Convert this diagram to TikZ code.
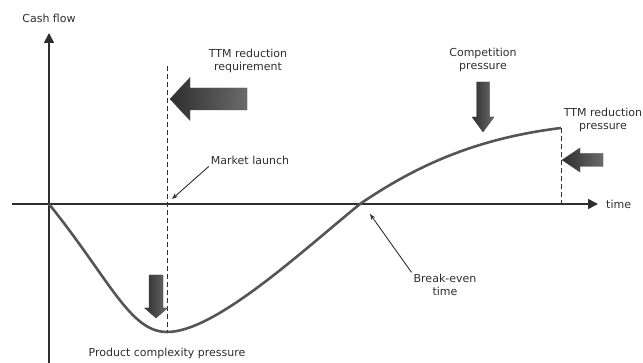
\documentclass[tikz,border=0pt]{standalone}
\usepackage{fontspec}
\setmainfont{DejaVu Sans}
\usepackage{tikz}
\usetikzlibrary{calc, arrows.meta, positioning}

\definecolor{inkgray}{HTML}{2E2E2E}
\definecolor{curvegray}{HTML}{555555}

\tikzset{
  pics/blockarrow/.style n args={4}{code={
    \shade[left color=black!82, right color=black!58, draw=black!72, line width=0.4pt]
      (0,0) -- (#2,#4) -- (#2,#3) -- (#1,#3) -- (#1,-#3) -- (#2,-#3) -- (#2,-#4) -- cycle;
  }}
}

\begin{document}
\begin{tikzpicture}[
  x=1pt, y=1pt,
  lbl/.style={font=\fontsize{11}{12.5}\selectfont, text=inkgray, align=center, inner sep=2pt},
  axis/.style={draw=inkgray, line width=1.6pt, -{Triangle[length=10pt, width=10pt]}},
  cashline/.style={draw=curvegray, line width=2.6pt},
  marker/.style={draw=inkgray, line width=0.8pt, dash pattern=on 5pt off 3pt},
  pointer/.style={draw=inkgray, line width=0.9pt, -{Stealth[length=6pt, width=4.5pt]}}
]
\useasboundingbox (0,0) rectangle (643,363);
\clip (0,0) rectangle (643,363);

% Axes
\coordinate (O) at (49,159);
\coordinate (ytip) at (49,330);
\coordinate (xtip) at (598,159);
\draw[axis] (49,0) -- (ytip);
\draw[axis] (12,159) -- (xtip);
\node[lbl, above=8pt of ytip] (cashflow) {Cash flow};
\node[lbl, right=6pt of xtip] (time) {time};

% Cash flow curve
\coordinate (bottom) at (167,31);
\coordinate (breakpt) at (360,159);
\coordinate (endpt) at (561,235);
\draw[cashline] (O) .. controls (110,83) and (130,31) .. (bottom)
  .. controls (215,31) and (300,110) .. (breakpt)
  .. controls (420,200) and (480,225) .. (endpt);

% Market launch and end of life
\draw[marker] (167,297) -- (bottom);
\draw[marker] (endpt) -- (561,159);

% Labels
\node[lbl] (ttmreq) at (248,302) {TTM reduction\\requirement};
\node[lbl] (launch) at (250,203) {Market launch};
\node[lbl] (competition) at (483,303) {Competition\\pressure};
\node[lbl] (ttmpress) at (603,243) {TTM reduction\\pressure};
\node[lbl] (complexity) at (167,10) {Product complexity pressure};
\node[lbl] (breakeven) at (445,78) {Break-even\\time};

% Pointers
\coordinate (launchpt) at (172,164);
\coordinate (breakhit) at (370,149);
\draw[pointer] (launch.south west) -- (launchpt);
\draw[pointer] (breakeven.north west) -- (breakhit);

% Pressure arrows
\pic at (170,264) {blockarrow={77}{20}{11}{21.5}};
\pic[rotate=90] at (483,231) {blockarrow={50}{15}{6.5}{11}};
\pic at (562,203) {blockarrow={41}{18}{6.5}{12}};
\pic[rotate=90] at (156,45) {blockarrow={43}{10}{7}{11.5}};

\end{tikzpicture}
\end{document}
